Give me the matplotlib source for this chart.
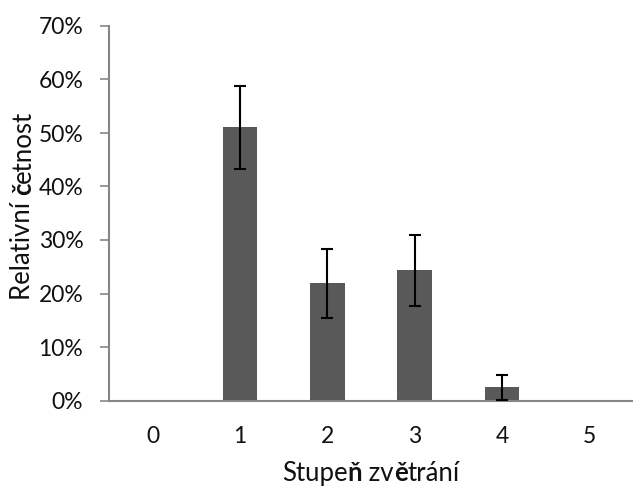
import matplotlib
matplotlib.use("Agg")
import matplotlib.pyplot as plt
from matplotlib.ticker import PercentFormatter

categories = ["0", "1", "2", "3", "4", "5"]
values = [0.0, 51.1, 22.0, 24.3, 2.5, 0.0]
err_low = [0.0, 7.8, 6.6, 6.7, 2.4, 0.0]
err_high = [0.0, 7.7, 6.4, 6.7, 2.3, 0.0]
yticks = [0, 10, 20, 30, 40, 50, 60, 70]
xlabel_parts = [("Stupe", "normal"), ("ň", "bold"), (" zv", "normal"), ("ě", "bold"), ("trání", "normal")]
ylabel_parts = [("Relativní ", "normal"), ("č", "bold"), ("etnost", "normal")]

FONT = ["Lato", "DejaVu Sans"]
FS = 16.5
LFS = 18.5
DPI = 100
fig = plt.figure(figsize=(6.33, 4.86), dpi=DPI)
ax = fig.add_axes([109 / 633, 1 - 400.5 / 486, 1 - 109 / 633, (400.5 - 26) / 486])

x = list(range(len(categories)))
nz = [i for i in x if values[i] > 0]
ax.bar(x, values, width=0.4, color="#595959", zorder=2)
ax.errorbar([x[i] for i in nz], [values[i] for i in nz],
            yerr=[[err_low[i] for i in nz], [err_high[i] for i in nz]],
            fmt="none", ecolor="black", elinewidth=1.5, capsize=4.5, capthick=1.5, zorder=3)

ax.set_xlim(-0.5, 5.5)
ax.set_ylim(0, 70)
ax.set_yticks(yticks)
ax.yaxis.set_major_formatter(PercentFormatter(decimals=0))
ax.set_xticks(x)
ax.set_xticklabels(categories)
for s in ["top", "right"]:
    ax.spines[s].set_visible(False)
for s in ["left", "bottom"]:
    ax.spines[s].set_color("#868686")
    ax.spines[s].set_linewidth(1.5)
ax.tick_params(axis="y", length=6.5, width=1.2, color="#868686", pad=12, labelsize=FS)
ax.tick_params(axis="x", length=0, pad=18, labelsize=FS)
for lab in ax.get_xticklabels() + ax.get_yticklabels():
    lab.set_family(FONT)
    lab.set_color("#111111")

fig.canvas.draw()
renderer = fig.canvas.get_renderer()

def draw_parts(parts, cx, cy, rotation):
    texts = []
    for s, w in parts:
        t = fig.text(0, 0, s, fontsize=LFS, weight=w, family=FONT, rotation=rotation,
                     color="#111111", ha="left", va="center", rotation_mode="anchor")
        texts.append(t)
    sizes = []
    for t in texts:
        bb = t.get_window_extent(renderer)
        sizes.append(bb.width if rotation == 0 else bb.height)
    total = sum(sizes)
    W, H = fig.get_size_inches() * DPI
    pos = -total / 2
    for t, sz in zip(texts, sizes):
        if rotation == 0:
            t.set_position(((cx + pos) / W, cy / H))
        else:
            t.set_position((cx / W, (cy + pos) / H))
        pos += sz

draw_parts(xlabel_parts, 371, 486 - 473, 0)
draw_parts(ylabel_parts, 23, 486 - 205, 90)

fig.savefig("out.png", dpi=DPI)
